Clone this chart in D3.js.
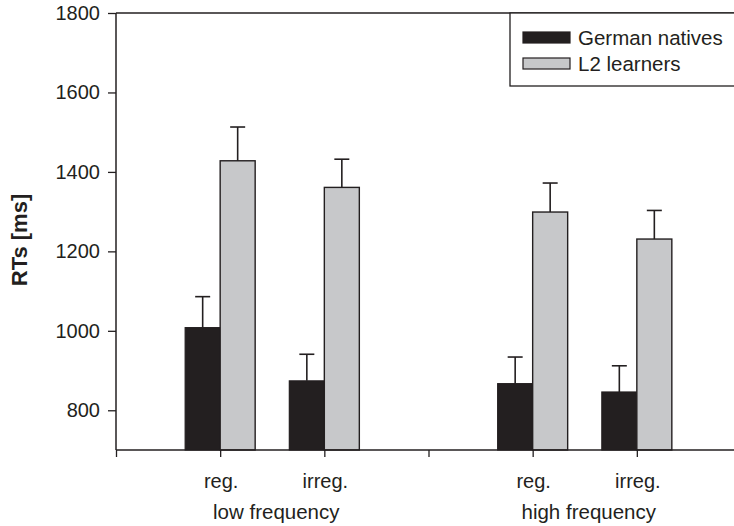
<!DOCTYPE html>
<html>
<head>
<meta charset="utf-8">
<script src="https://cdn.jsdelivr.net/npm/d3@7"></script>
<style>
  body { margin: 0; background: #fff; }
  svg text { font-family: Arial, "Liberation Sans", sans-serif; fill: #231f20; }
</style>
</head>
<body>
<script>
// chart data
var groups = ['low frequency', 'high frequency'];
var conditions = ['reg.', 'irreg.'];
var series = ['German natives', 'L2 learners'];
// order: low reg, low irreg, high reg, high irreg
var nativesMean = [1008, 874, 867, 846];
var nativesErr = [78, 67, 67, 66];
var learnersMean = [1428, 1361, 1299, 1231];
var learnersErr = [85, 71, 73, 72];
var yTicks = [800, 1000, 1200, 1400, 1600, 1800];

var width = 734, height = 526;
var dark = '#231f20', grey = '#c7c8ca';

var svg = d3.select('body').append('svg')
    .attr('width', width)
    .attr('height', height);

// scales
var y = d3.scaleLinear().domain([700, 1800]).range([450, 13]);
// slot positions: 0 = axis start, 1,2 = low freq, 3 = divider, 4,5 = high freq
var x = d3.scaleLinear().domain([0, 6]).range([116, 741]);
var barW = 35;

// build rows from the arrays
var rows = [];
groups.forEach(function(g, gi) {
    conditions.forEach(function(c, ci) {
        var i = gi * 2 + ci;
        rows.push({
            group: g, cond: c, slot: gi * 3 + ci + 1,
            natives: nativesMean[i], nativesErr: nativesErr[i],
            learners: learnersMean[i], learnersErr: learnersErr[i]
        });
    });
});

// frame line on top
svg.append('line')
    .attr('x1', x(0)).attr('x2', width)
    .attr('y1', y(1800)).attr('y2', y(1800))
    .attr('stroke', dark).attr('stroke-width', 1.5);

// y axis
var yAxis = d3.axisLeft(y).tickValues(yTicks).tickSize(8).tickPadding(8).tickFormat(d3.format('d'));
var gy = svg.append('g')
    .attr('transform', 'translate(' + x(0) + ',0)')
    .call(yAxis);
gy.select('.domain').attr('stroke', dark).attr('stroke-width', 1.5)
    .attr('d', 'M0,' + y(1800) + 'V' + y(700));
gy.selectAll('.tick line').attr('stroke', dark).attr('stroke-width', 1.3);
gy.selectAll('.tick text').attr('font-size', 20).attr('fill', dark)
    .style('font-family', 'Arial, "Liberation Sans", sans-serif');

// bars
var bar = svg.selectAll('g.cat')
    .data(rows)
  .enter().append('g')
    .attr('class', 'cat');

bar.append('rect')
    .attr('x', function(d) { return x(d.slot) - barW; })
    .attr('y', function(d) { return y(d.natives); })
    .attr('width', barW)
    .attr('height', function(d) { return y(700) - y(d.natives); })
    .attr('fill', dark)
    .attr('stroke', dark)
    .attr('stroke-width', 1.2);

bar.append('rect')
    .attr('x', function(d) { return x(d.slot); })
    .attr('y', function(d) { return y(d.learners); })
    .attr('width', barW)
    .attr('height', function(d) { return y(700) - y(d.learners); })
    .attr('fill', grey)
    .attr('stroke', dark)
    .attr('stroke-width', 1.4);

// error bars (upper only)
function errBar(sel, cx, mean, err) {
    sel.append('line')
        .attr('x1', cx).attr('x2', cx)
        .attr('y1', function(d) { return y(mean(d)); })
        .attr('y2', function(d) { return y(mean(d) + err(d)); })
        .attr('stroke', dark).attr('stroke-width', 1.6);
    sel.append('line')
        .attr('x1', function(d) { return cx(d) - 7.5; })
        .attr('x2', function(d) { return cx(d) + 7.5; })
        .attr('y1', function(d) { return y(mean(d) + err(d)); })
        .attr('y2', function(d) { return y(mean(d) + err(d)); })
        .attr('stroke', dark).attr('stroke-width', 1.6);
}
errBar(bar, function(d) { return x(d.slot) - barW / 2; },
    function(d) { return d.natives; }, function(d) { return d.nativesErr; });
errBar(bar, function(d) { return x(d.slot) + barW / 2; },
    function(d) { return d.learners; }, function(d) { return d.learnersErr; });

// x axis
var xAxis = d3.axisBottom(x).tickValues([0, 1, 2, 3, 4, 5, 6]).tickSize(7).tickFormat('');
var gx = svg.append('g')
    .attr('transform', 'translate(0,' + y(700) + ')')
    .call(xAxis);
gx.select('.domain').attr('stroke', dark).attr('stroke-width', 1.5)
    .attr('d', 'M' + x(0) + ',0H' + width);
gx.selectAll('.tick line').attr('stroke', dark).attr('stroke-width', 1.3);

// category labels
svg.selectAll('text.cond')
    .data(rows)
  .enter().append('text')
    .attr('class', 'cond')
    .attr('x', function(d) { return x(d.slot) + 1; })
    .attr('y', 488)
    .attr('text-anchor', 'middle')
    .attr('font-size', 20)
    .text(function(d) { return d.cond; });

svg.selectAll('text.group')
    .data(groups)
  .enter().append('text')
    .attr('class', 'group')
    .attr('x', function(d, i) { return x(i * 3 + 1.5) + 4; })
    .attr('y', 519)
    .attr('text-anchor', 'middle')
    .attr('font-size', 20.5)
    .text(function(d) { return d; });

// y label
svg.append('text')
    .attr('text-anchor', 'middle')
    .attr('transform', 'translate(27,' + 240 + ')rotate(-90)')
    .attr('font-size', 22)
    .attr('font-weight', 'bold')
    .text('RTs [ms]');

// legend
var legend = svg.append('g').attr('transform', 'translate(510,' + y(1800) + ')');
legend.append('rect')
    .attr('x', 0).attr('y', 0)
    .attr('width', 260).attr('height', 73)
    .attr('fill', '#fff')
    .attr('stroke', dark).attr('stroke-width', 1.3);

var item = legend.selectAll('g.item')
    .data(series)
  .enter().append('g')
    .attr('class', 'item')
    .attr('transform', function(d, i) { return 'translate(13,' + (19 + i * 26) + ')'; });

item.append('rect')
    .attr('width', 47).attr('height', 11)
    .attr('fill', function(d, i) { return i === 0 ? dark : grey; })
    .attr('stroke', dark).attr('stroke-width', 1.2);

item.append('text')
    .attr('x', 55)
    .attr('y', 13)
    .attr('font-size', 20.5)
    .text(function(d) { return d; });
</script>
</body>
</html>
